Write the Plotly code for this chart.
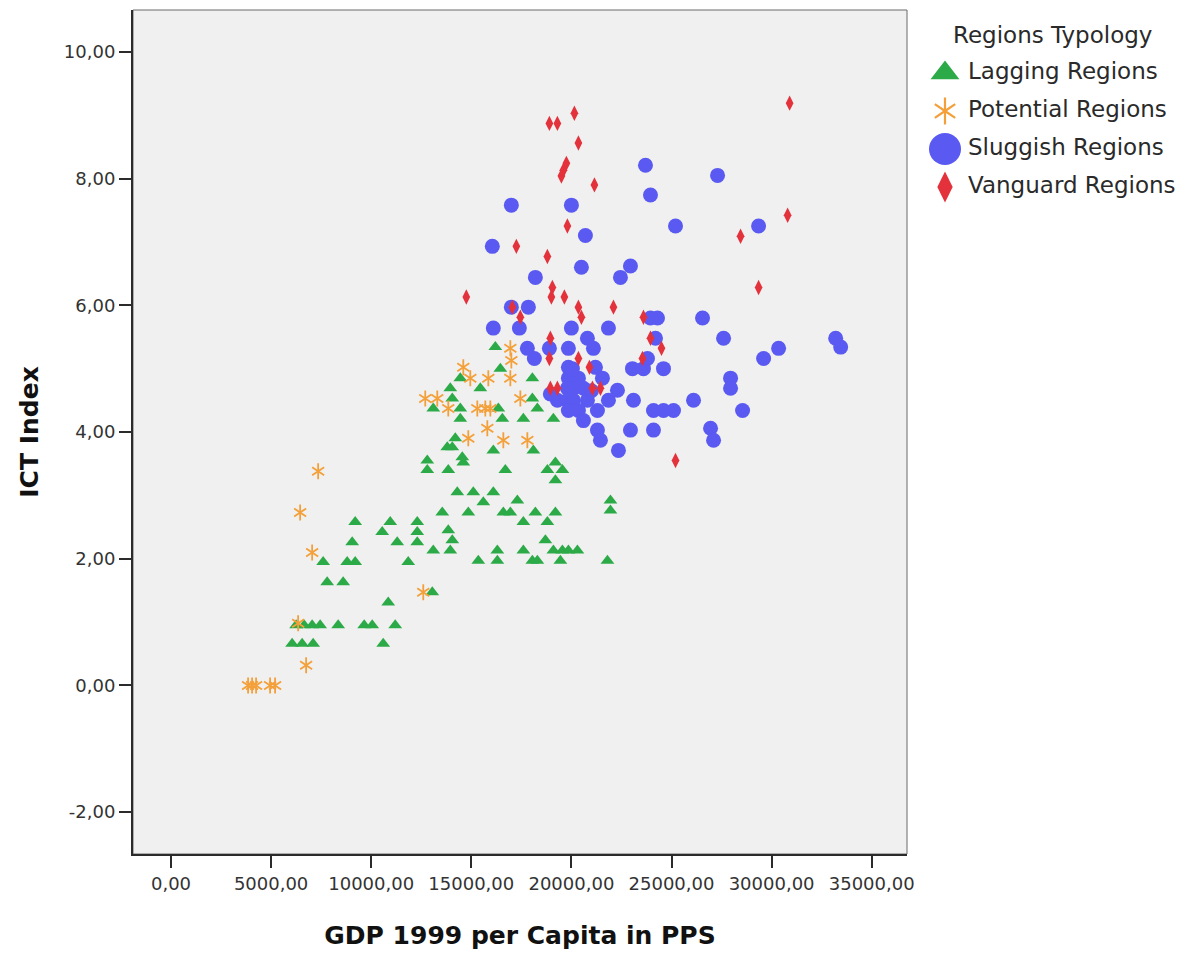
import plotly.graph_objects as go

# ---------------- data ----------------
CATEGORIES = ["Lagging Regions", "Potential Regions", "Sluggish Regions", "Vanguard Regions"]

LAG_GDP = [
    6050, 6550, 7100, 10600,
    6250, 6650, 7050, 7450, 8350, 9650, 10050, 11200,
    10850, 13050,
    7800, 8600,
    7600, 8800, 9200, 11850, 15350, 16300, 18050, 18300, 19450, 21800,
    13100, 13950, 16300, 17600, 19100, 19550, 19850, 20300,
    9050, 11300, 12300, 14050, 18700,
    10550, 12300, 13850,
    9200, 10950, 12300, 17600, 18800,
    13550, 14850, 16600, 16950, 18200, 19200, 21950,
    15600, 17300, 21950,
    14300, 15100, 16100,
    19200,
    12800, 13850, 16700, 18800, 19550,
    12800, 14600, 19200,
    14550,
    16100, 18100,
    13800, 14050,
    14200,
    14450, 16550, 17600, 19100,
    13100, 14450, 16350, 18300,
    14050, 18050,
    13950, 15450,
    14450, 18050,
    16450,
    16200,
]
LAG_ICT = [
    0.66, 0.66, 0.66, 0.66,
    0.95, 0.95, 0.95, 0.95, 0.95, 0.95, 0.95, 0.95,
    1.31, 1.47,
    1.63, 1.63,
    1.95, 1.95, 1.95, 1.95, 1.97, 1.97, 1.97, 1.97, 1.97, 1.97,
    2.13, 2.13, 2.13, 2.13, 2.13, 2.13, 2.13, 2.13,
    2.26, 2.26, 2.26, 2.29, 2.29,
    2.42, 2.42, 2.45,
    2.58, 2.58, 2.58, 2.58, 2.58,
    2.73, 2.73, 2.73, 2.73, 2.73, 2.73, 2.76,
    2.89, 2.92, 2.92,
    3.05, 3.05, 3.05,
    3.24,
    3.40, 3.40, 3.40, 3.40, 3.40,
    3.55, 3.52, 3.52,
    3.60,
    3.71, 3.71,
    3.76, 3.76,
    3.90,
    4.21, 4.21, 4.21, 4.21,
    4.37, 4.37, 4.37, 4.37,
    4.53, 4.53,
    4.69, 4.69,
    4.85, 4.85,
    5.00,
    5.34,
]

POT_GDP = [3850, 4050, 4250, 4950, 5200, 6750, 6350, 6450, 7050, 7350,
           12700, 13300, 12600, 16950, 17000, 14600, 14950, 15850, 16950,
           13850, 15300, 15700, 15950, 17450, 15800, 14850, 16600, 17800]
POT_ICT = [0.00, 0.00, 0.00, 0.00, 0.00, 0.32, 0.98, 2.73, 2.10, 3.38,
           4.53, 4.53, 1.47, 5.32, 5.13, 5.02, 4.85, 4.85, 4.85,
           4.37, 4.37, 4.37, 4.37, 4.53, 4.06, 3.90, 3.87, 3.87]

SLU_GDP = [23700, 27300, 23950, 17000, 20000, 20700, 25200, 29350, 16050, 20500,
           22950, 22450, 18200, 17000, 17850, 16100, 17400, 20000, 21850, 23950,
           24300, 26550, 27600, 33200, 33450, 30350, 29600, 20800, 21100, 17800,
           18150, 18900, 19850, 19850, 21200, 23050, 23600, 23800, 24600, 24200,
           27950, 27950, 28550, 26950, 27100, 26100, 24100, 24600, 25100, 24100,
           22950, 23100, 22350, 21450, 21300, 21850, 22300, 19850, 20350, 21550,
           19300, 19800, 20100, 20600, 19800, 20100, 20800, 21300, 19850, 20350,
           20600, 18950, 20050, 21000]
SLU_ICT = [8.21, 8.05, 7.74, 7.58, 7.58, 7.10, 7.25, 7.25, 6.93, 6.60,
           6.62, 6.44, 6.44, 5.97, 5.97, 5.64, 5.64, 5.64, 5.64, 5.80,
           5.80, 5.80, 5.48, 5.48, 5.34, 5.32, 5.16, 5.48, 5.32, 5.32,
           5.16, 5.32, 5.32, 5.02, 5.02, 5.00, 5.00, 5.16, 5.00, 5.48,
           4.85, 4.69, 4.34, 4.06, 3.87, 4.50, 4.34, 4.34, 4.34, 4.03,
           4.03, 4.50, 3.71, 3.87, 4.03, 4.50, 4.66, 4.85, 4.85, 4.85,
           4.50, 4.69, 4.69, 4.69, 4.50, 4.50, 4.50, 4.34, 4.34, 4.34,
           4.18, 4.60, 5.00, 4.65]

VAN_GDP = [30900, 20150, 18900, 19300, 20350, 19750, 19600, 19500, 21150, 30800,
           19800, 28450, 17250, 18800, 29350, 14750, 19050, 19000, 19650, 20350,
           20500, 22100, 17050, 17450, 23600, 18950, 18900, 20350, 23950, 24500,
           23550, 20900, 18950, 19300, 21050, 21450, 25200]
VAN_ICT = [9.19, 9.03, 8.87, 8.87, 8.56, 8.24, 8.13, 8.04, 7.90, 7.42,
           7.25, 7.09, 6.93, 6.77, 6.28, 6.13, 6.28, 6.13, 6.13, 5.97,
           5.81, 5.97, 5.97, 5.81, 5.81, 5.48, 5.16, 5.16, 5.48, 5.32,
           5.16, 5.02, 4.69, 4.69, 4.69, 4.69, 3.55]

X_TICKS = [0, 5000, 10000, 15000, 20000, 25000, 30000, 35000]
X_TICK_LABELS = ["0,00", "5000,00", "10000,00", "15000,00", "20000,00",
                 "25000,00", "30000,00", "35000,00"]
Y_TICKS = [-2, 0, 2, 4, 6, 8, 10]
Y_TICK_LABELS = ["-2,00", "0,00", "2,00", "4,00", "6,00", "8,00", "10,00"]

# ---------------- styling ----------------
GREEN = "#2CAA48"
ORANGE = "#F4A03A"
BLUE = "#5A5AF2"
RED = "#E4323C"
FONT = "DejaVu Sans"
TEXT_COL = "#2a2a2a"

W, H = 1187, 953
M_L, M_R, M_T, M_B = 133, 0, 10, 99
PLOT_RIGHT_PX = 907
LEG_LEFT_PX = 925
# usable width as laid out by the renderer
inner_w = W - M_L - M_R - 7
main_dom = (PLOT_RIGHT_PX - M_L) / inner_w
leg_dom = (LEG_LEFT_PX - M_L) / inner_w

# key rows: first row centre and spacing in pixels
ROW0_PX, ROW_STEP = 73, 38
leg_y_range = [(H - M_B - ROW0_PX) / ROW_STEP, (M_T - ROW0_PX) / ROW_STEP]
leg_x_range = [0, inner_w - (LEG_LEFT_PX - M_L)]

fig = go.Figure()

# main scatter series
fig.add_trace(go.Scatter(
    x=LAG_GDP, y=LAG_ICT, mode="markers", name=CATEGORIES[0],
    marker=dict(symbol="triangle-up", size=12, color=GREEN, line=dict(width=0)),
))
for sym in ("y-up-open", "y-down-open"):
    fig.add_trace(go.Scatter(
        x=POT_GDP, y=POT_ICT, mode="markers", name=CATEGORIES[1],
        marker=dict(symbol=sym, size=10, color=ORANGE, line=dict(color=ORANGE, width=1.8)),
    ))
fig.add_trace(go.Scatter(
    x=SLU_GDP, y=SLU_ICT, mode="markers", name=CATEGORIES[2],
    marker=dict(symbol="circle", size=15, color=BLUE, line=dict(width=0)),
))
fig.add_trace(go.Scatter(
    x=VAN_GDP, y=VAN_ICT, mode="markers", name=CATEGORIES[3],
    marker=dict(symbol="diamond-tall", size=11, color=RED, line=dict(width=0)),
))

# key panel on its own hidden axes
rows = list(range(len(CATEGORIES)))
KEY_MARK_X, KEY_TEXT_X = 20, 43
key_styles = [
    dict(symbol="triangle-up", size=25, color=GREEN, line=dict(width=0)),
    None,
    dict(symbol="circle", size=32, color=BLUE, line=dict(width=0)),
    dict(symbol="diamond-tall", size=22, color=RED, line=dict(width=0)),
]
for row, style in zip(rows, key_styles):
    if style is None:
        for sym in ("y-up-open", "y-down-open"):
            fig.add_trace(go.Scatter(
                x=[KEY_MARK_X], y=[row], mode="markers", xaxis="x2", yaxis="y2",
                marker=dict(symbol=sym, size=17, color=ORANGE, line=dict(color=ORANGE, width=2.2)),
                hoverinfo="skip",
            ))
    else:
        fig.add_trace(go.Scatter(
            x=[KEY_MARK_X], y=[row], mode="markers", xaxis="x2", yaxis="y2",
            marker=style, hoverinfo="skip",
        ))
fig.add_trace(go.Scatter(
    x=[KEY_TEXT_X] * len(rows), y=rows, mode="text", text=CATEGORIES,
    textposition="middle right", xaxis="x2", yaxis="y2", cliponaxis=False,
    textfont=dict(family=FONT, size=23, color=TEXT_COL), hoverinfo="skip",
))

axis_common = dict(
    showgrid=False, zeroline=False, showline=True, linewidth=2, linecolor="#2b2b2b",
    ticks="outside", ticklen=12, tickwidth=2, tickcolor="#2b2b2b",
    tickfont=dict(family=FONT, size=18, color="#333333"),
)

fig.update_layout(
    width=W, height=H,
    margin=dict(l=M_L, r=M_R, t=M_T, b=M_B),
    paper_bgcolor="white", plot_bgcolor="white",
    showlegend=False,
    xaxis=dict(
        domain=[0, main_dom], range=[-1898, 36763],
        tickvals=X_TICKS, ticktext=X_TICK_LABELS,
        title=dict(text="GDP 1999 per Capita in PPS", standoff=34,
                   font=dict(family=FONT, size=25, weight="bold", color="#111111")),
        **axis_common,
    ),
    yaxis=dict(
        range=[-2.66, 10.66],
        tickvals=Y_TICKS, ticktext=Y_TICK_LABELS,
        title=dict(text="ICT Index", standoff=18,
                   font=dict(family=FONT, size=25, weight="bold", color="#111111")),
        **axis_common,
    ),
    xaxis2=dict(domain=[leg_dom, 1], range=leg_x_range, anchor="y2", visible=False, fixedrange=True),
    yaxis2=dict(domain=[0, 1], range=leg_y_range, anchor="x2", visible=False, fixedrange=True),
    shapes=[dict(
        type="rect", xref="x domain", yref="y domain", x0=0, x1=1, y0=0, y1=1,
        fillcolor="#F0F0F0", line=dict(color="#6a6a6a", width=1), layer="below",
    )],
    annotations=[dict(
        text="Regions Typology", xref="x2", yref="y2", x=127, y=-1,
        showarrow=False, xanchor="center", yanchor="middle",
        font=dict(family=FONT, size=23, color=TEXT_COL),
    )],
)

fig.write_html("out.html")
